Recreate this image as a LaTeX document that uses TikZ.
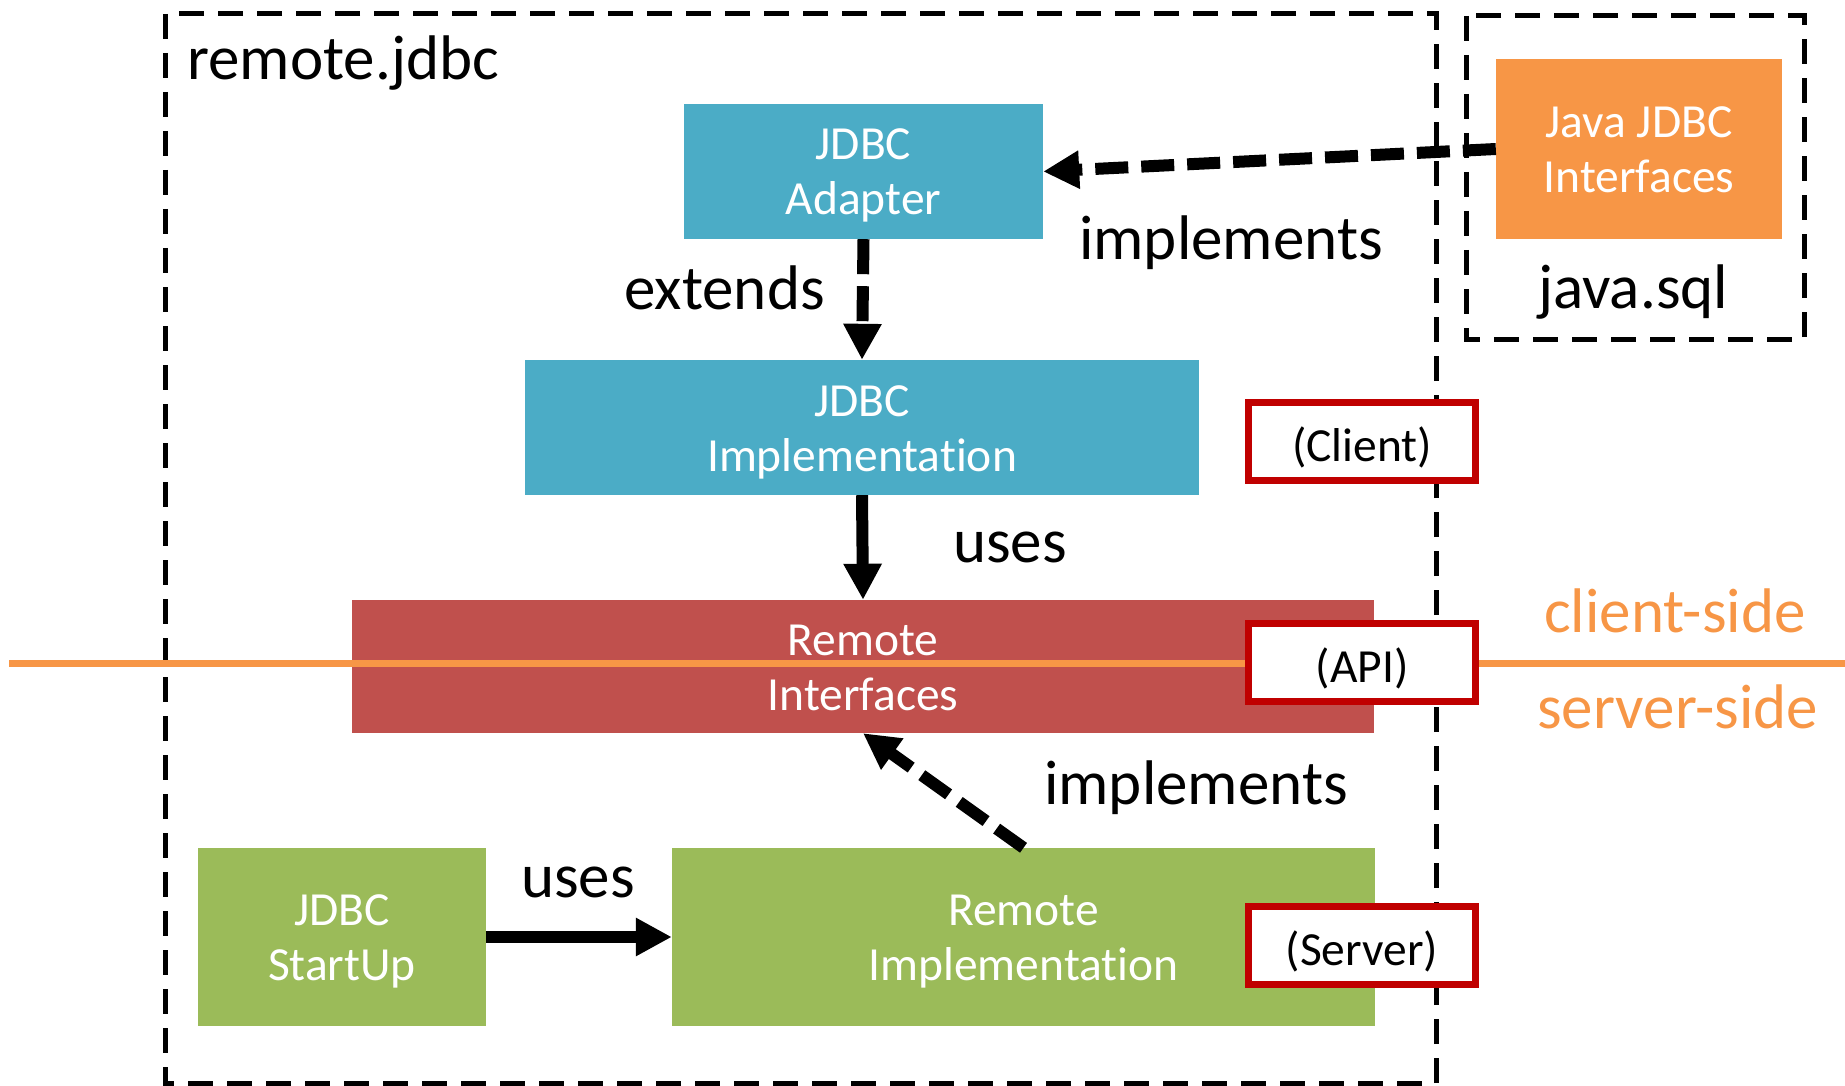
\documentclass[tikz,border=0pt]{standalone}
\usepackage{fontspec}
\setmainfont{Carlito}[Ligatures=NoCommon]
\usetikzlibrary{arrows.meta}

\definecolor{clsblue}{HTML}{4BACC6}
\definecolor{clsred}{HTML}{C0504D}
\definecolor{clsgreen}{HTML}{9BBB59}
\definecolor{clsorange}{HTML}{F79646}
\definecolor{rolered}{HTML}{C00000}

\newcommand\cboxfont{\fontsize{47.5}{55}\selectfont}
\newcommand\clblfont{\fontsize{63}{76}\selectfont}
% two centred lines with fixed ascent/descent, so every box sets them alike
\newcommand\twoline[2]{\rule{0pt}{46pt}#1\\#2\rule[-14pt]{0pt}{0pt}}

\begin{document}
\begin{tikzpicture}[x=1pt,y=-1pt,
  pkgframe/.style={draw, line width=5pt, dash pattern=on 25pt off 14pt},
  cls/.style={rectangle, inner sep=0pt, text=white, align=center, font=\cboxfont},
  role/.style={rectangle, draw=rolered, fill=white, line width=7pt,
    minimum width=227pt, minimum height=78pt, inner sep=0pt, font=\cboxfont,
    text height=48pt, text depth=8pt},
  lbl/.style={anchor=base west, inner sep=0pt, font=\clblfont},
  conn/.style={line width=12pt, -{Triangle[length=36pt,width=36pt]}},
  dconn/.style={conn, dash pattern=on 33pt off 13pt}]

\useasboundingbox (0,0) rectangle (1845,1086);

% package frames
\draw[pkgframe] (165,14) rectangle (1436,1083);
\draw[pkgframe] (1466,16) rectangle (1804,339);
\node[lbl] (pkgremote) at (187,80) {remote.jdbc};
\node[lbl] (pkgsql) at (1538,308) {java.sql};

% classes
\node[cls, fill=clsorange, minimum width=286pt, minimum height=180pt]
  (jji) at (1639,149) {\twoline{Java JDBC}{Interfaces}};
\node[cls, fill=clsblue, minimum width=359pt, minimum height=135pt]
  (adapter) at (863.5,171.5) {\twoline{JDBC}{Adapter}};
\node[cls, fill=clsblue, minimum width=674pt, minimum height=135pt]
  (jimpl) at (862,427.5) {\twoline{JDBC}{Implementation}};
\node[cls, fill=clsred, minimum width=1022pt, minimum height=133pt]
  (rint) at (863,666.5) {\twoline{Remote}{Interfaces}};
\node[cls, fill=clsgreen, minimum width=288pt, minimum height=178pt]
  (startup) at (342,937) {\twoline{JDBC}{StartUp}};
\node[cls, fill=clsgreen, minimum width=703pt, minimum height=178pt]
  (rimpl) at (1023.5,937) {\twoline{Remote}{Implementation}};

% client/server divide
\coordinate (divL) at (9,663);
\coordinate (divR) at (1845,663);
\draw[clsorange, line width=7pt] (divL) -- (divR);
\node[anchor=base west, inner sep=0pt, font=\clblfont, text=clsorange]
  (cside) at (1544,632) {client-side};
\node[anchor=base west, inner sep=0pt, font=\clblfont, text=clsorange]
  (sside) at (1537,728) {server-side};

% roles
\node[role] (client) at (1362,441.5) {(Client)};
\node[role] (api) at (1362,662) {(API)};
\node[role] (server) at (1362,945.5) {(Server)};

% relations
\draw[dconn] (jji.west) -- (adapter.east);
\draw[dconn, dash pattern=on 35pt off 12pt] (adapter.south) -- (jimpl.north);
\draw[conn] (jimpl.south) -- (rint.north);
\draw[dconn] (rimpl.north) -- (rint.south);
\draw[conn] (startup.east) -- (rimpl.west);

\node[lbl] (limpl1) at (1079,259) {implements};
\node[lbl] (lext) at (624,309) {extends};
\node[lbl] (luses1) at (953,562) {uses};
\node[lbl] (limpl2) at (1044,804) {implements};
\node[lbl] (luses2) at (521,897) {uses};
\end{tikzpicture}
\end{document}
